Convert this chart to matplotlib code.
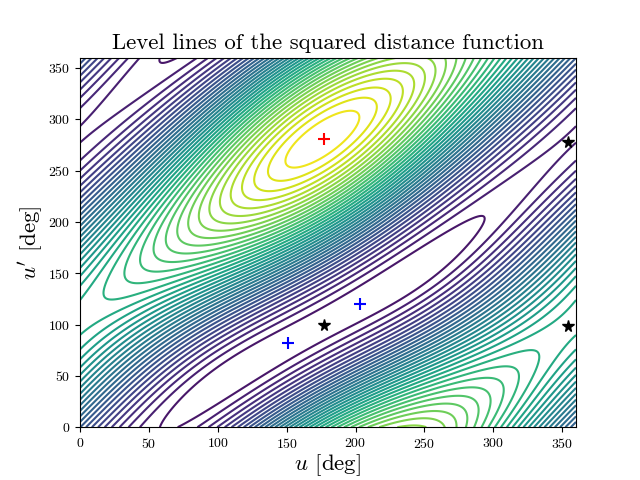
import numpy as np
import matplotlib
matplotlib.use("Agg")
import matplotlib.pyplot as plt

plt.rcParams["font.family"] = "cmr10"
plt.rcParams["mathtext.fontset"] = "cm"
plt.rcParams["axes.unicode_minus"] = False
plt.rcParams["axes.formatter.use_mathtext"] = True

# contour numbering, counted on the picture
TOP = 38
RIDGE = 24

# critical points: u, u', estimated value in level units
minima_u = [151, 203]
minima_up = [82, 120]
minima_val = [0.2, 0.2]
maxima_u = [177]
maxima_up = [281]
maxima_val = [TOP + 0.6]
saddle_u = [177, 354, 354]
saddle_up = [100, 99, 278]
saddle_val = [0.6, RIDGE - 0.5, 1.7]

# points on the level lines: u, u', level
line_u = [58, 70, 155, 181, 85, 133, 174, 294, 252, 283, 63, 41, 85,
          0, 0, 319, 319, 319,
          0, 0, 18, 332, 33, 317, 45, 306, 54,
          151, 203, 139, 214, 121, 224, 266, 230,
          181, 181, 181, 181, 181, 181]
line_up = [0, 0, 70, 87, 48, 87, 122, 203, 181, 177, 358.5, 0, 0,
           296, 279.5, 247, 216, 202,
           91.5, 124, 125, 72, 143, 55, 161, 47, 172,
           260, 303, 252, 314, 241, 323, 0, 0,
           303, 267, 318, 255, 328, 244]
line_level = [1, 1, 1, 1, 1, 1, 1, 1, 1, 1, 1, 2, 2,
              2, 2, 2, 2, 3,
              RIDGE - 1, RIDGE - 1, RIDGE, RIDGE, RIDGE + 1, RIDGE + 1, RIDGE + 2, RIDGE + 2, RIDGE + 3,
              TOP, TOP, TOP - 1, TOP - 1, TOP - 2, TOP - 2, RIDGE + 7, RIDGE + 7,
              TOP, TOP, TOP - 1, TOP - 1, TOP - 2, TOP - 2]


def basis(u, up):
    # the squared distance between two ellipses has exactly these terms
    a, b = np.radians(u), np.radians(up)
    return np.stack([np.ones_like(a), np.cos(a), np.sin(a), np.cos(2 * a), np.sin(2 * a),
                     np.cos(b), np.sin(b), np.cos(2 * b), np.sin(2 * b),
                     np.cos(a) * np.cos(b), np.cos(a) * np.sin(b),
                     np.sin(a) * np.cos(b), np.sin(a) * np.sin(b)], axis=-1)


def slopes(u, up, h=0.5):
    du = np.degrees(1) * (basis(u + h, up) - basis(u - h, up)) / (2 * h)
    dup = np.degrees(1) * (basis(u, up + h) - basis(u, up - h)) / (2 * h)
    return du, dup


crit_u = np.array(minima_u + maxima_u + saddle_u, dtype=float)
crit_up = np.array(minima_up + maxima_up + saddle_up, dtype=float)
crit_val = np.array(minima_val + maxima_val + saddle_val, dtype=float)
pts_u = np.array(line_u, dtype=float)
pts_up = np.array(line_up, dtype=float)
pts_level = np.array(line_level, dtype=float)

# fit the coefficients to what was read; repeated so that the misfit counts
# as a position error on the line and not as an error in value
crit_du, crit_dup = slopes(crit_u, crit_up)
pts_du, pts_dup = slopes(pts_u, pts_up)
weight = np.ones(len(pts_u))
for _ in range(6):
    A = np.vstack([basis(pts_u, pts_up) * weight[:, None], 3 * basis(crit_u, crit_up), 3 * crit_du, 3 * crit_dup])
    b = np.concatenate([pts_level * weight, 3 * crit_val, np.zeros(2 * len(crit_u))])
    coef = np.linalg.lstsq(A, b, rcond=None)[0]
    weight = 1 / np.clip(np.hypot(pts_du @ coef, pts_dup @ coef) / 20, 0.15, 1.5)

U, UP = np.meshgrid(np.linspace(0, 360, 721), np.linspace(0, 360, 721))
F = basis(U, UP) @ coef

fig, ax = plt.subplots()
ax.contour(U, UP, F, levels=np.arange(1, TOP + 1), cmap="viridis", linewidths=1.5, vmin=-1.5, vmax=TOP + 1)
ax.plot(minima_u, minima_up, "b+", ms=8.5, mew=1.5)
ax.plot(maxima_u, maxima_up, "r+", ms=8.5, mew=1.5)
ax.plot(saddle_u, saddle_up, "k*", ms=8.5)
ax.set_xlim(0, 360)
ax.set_ylim(0, 360)
ax.set_xticks(np.arange(0, 351, 50))
ax.set_yticks(np.arange(0, 351, 50))
ax.set_title("Level lines of the squared distance function", fontsize=16.4)
ax.set_xlabel(r"$u$ [deg]", fontsize=16.5, labelpad=1)
ax.set_ylabel(r"$u'$ [deg]", fontsize=16.5, labelpad=2)
fig.savefig("out.png", dpi=100)
